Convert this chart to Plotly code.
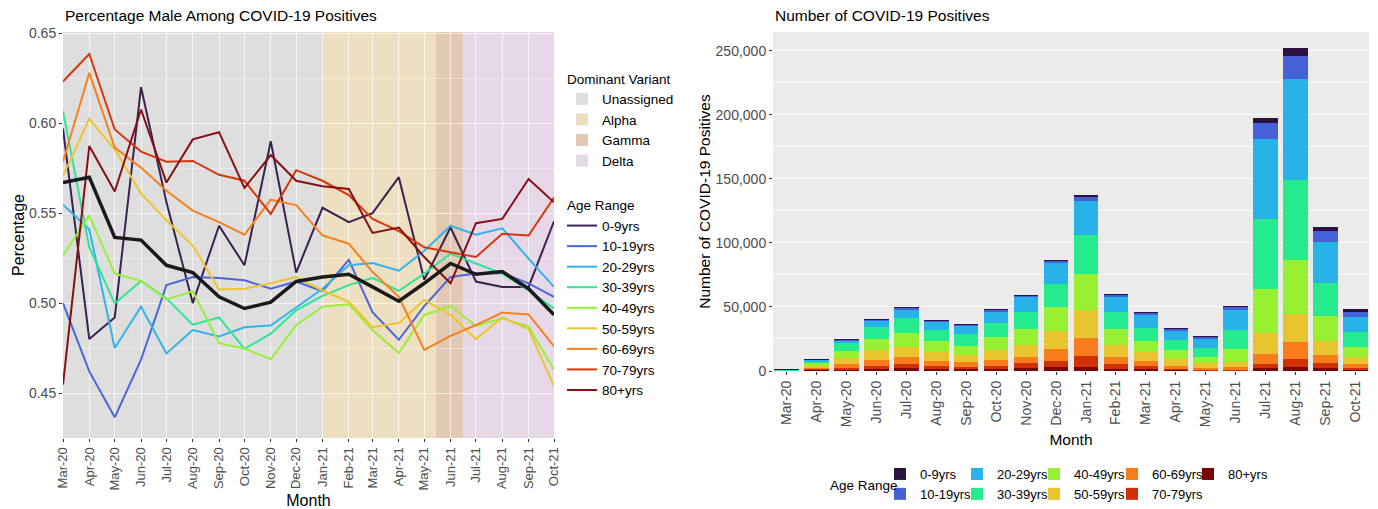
import plotly.graph_objects as go

# ---------------- data ----------------
month_dates = ['2020-03-01', '2020-04-01', '2020-05-01', '2020-06-01', '2020-07-01',
               '2020-08-01', '2020-09-01', '2020-10-01', '2020-11-01', '2020-12-01',
               '2021-01-01', '2021-02-01', '2021-03-01', '2021-04-01', '2021-05-01',
               '2021-06-01', '2021-07-01', '2021-08-01', '2021-09-01', '2021-10-01']
month_labels = ['Mar-20', 'Apr-20', 'May-20', 'Jun-20', 'Jul-20', 'Aug-20', 'Sep-20',
                'Oct-20', 'Nov-20', 'Dec-20', 'Jan-21', 'Feb-21', 'Mar-21', 'Apr-21',
                'May-21', 'Jun-21', 'Jul-21', 'Aug-21', 'Sep-21', 'Oct-21']

age_groups = ['0-9yrs', '10-19yrs', '20-29yrs', '30-39yrs', '40-49yrs',
              '50-59yrs', '60-69yrs', '70-79yrs', '80+yrs']
age_colors = ['#2d1140', '#4561d8', '#27b2e8', '#25ea8e', '#98f032',
              '#e8c42e', '#f97c1b', '#cf3008', '#7a0403']
line_colors = ['#3b2150', '#4a66dc', '#32b4ea', '#2ee597', '#98ef3a',
               '#ecc52e', '#f7801f', '#d5380c', '#861014']

# percentage male, by age group
pct_overall = [0.567, 0.570, 0.5365, 0.535, 0.521, 0.517, 0.5035, 0.497, 0.5005, 0.512,
               0.5145, 0.516, 0.509, 0.501, 0.511, 0.522, 0.516, 0.5175, 0.508, 0.4935]
pct_0_9 = [0.597, 0.480, 0.492, 0.620, 0.556, 0.500, 0.543, 0.521, 0.590, 0.517,
           0.553, 0.545, 0.550, 0.570, 0.513, 0.542, 0.512, 0.509, 0.509, 0.5455]
pct_10_19 = [0.500, 0.462, 0.4365, 0.4685, 0.510, 0.5145, 0.514, 0.5127, 0.508, 0.512,
             0.5066, 0.524, 0.495, 0.4796, 0.4983, 0.5145, 0.5164, 0.5167, 0.511, 0.5035]
pct_20_29 = [0.5547, 0.541, 0.475, 0.498, 0.472, 0.485, 0.4814, 0.4866, 0.4875, 0.4976,
             0.508, 0.521, 0.5223, 0.518, 0.529, 0.543, 0.538, 0.5416, 0.5247, 0.509]
pct_30_39 = [0.6066, 0.531, 0.4998, 0.5123, 0.5026, 0.488, 0.492, 0.4746, 0.483, 0.496,
             0.504, 0.510, 0.514, 0.5068, 0.5164, 0.5275, 0.522, 0.5164, 0.507, 0.497]
pct_40_49 = [0.5265, 0.5486, 0.5164, 0.5123, 0.502, 0.5066, 0.4777, 0.4746, 0.4689, 0.4878,
             0.498, 0.4994, 0.485, 0.4722, 0.4934, 0.4983, 0.4873, 0.4915, 0.4869, 0.463]
pct_50_59 = [0.5707, 0.6024, 0.5855, 0.561, 0.546, 0.532, 0.5076, 0.508, 0.511, 0.5145,
             0.507, 0.5007, 0.4866, 0.489, 0.5017, 0.4934, 0.480, 0.492, 0.4855, 0.4538]
pct_60_69 = [0.5786, 0.628, 0.5864, 0.5753, 0.5624, 0.5514, 0.545, 0.538, 0.5575, 0.5545,
             0.5376, 0.533, 0.5173, 0.5035, 0.474, 0.4818, 0.4878, 0.4947, 0.4937, 0.476]
pct_70_79 = [0.6232, 0.6385, 0.5965, 0.5842, 0.5786, 0.579, 0.5713, 0.568, 0.5496, 0.5739,
             0.568, 0.560, 0.5468, 0.540, 0.531, 0.5284, 0.5256, 0.5385, 0.5376, 0.5587]
pct_80p = [0.4547, 0.5873, 0.562, 0.6076, 0.567, 0.591, 0.595, 0.564, 0.5823, 0.568,
           0.565, 0.5634, 0.539, 0.542, 0.5256, 0.511, 0.5444, 0.5468, 0.569, 0.556]

# dominant variant periods
variants = ['Unassigned', 'Alpha', 'Gamma', 'Delta']
variant_start = ['2020-03-01', '2021-01-01', '2021-05-15', '2021-06-16']
variant_end = ['2021-01-01', '2021-05-15', '2021-06-16', '2021-10-01']
variant_colors = ['#dedede', '#eedfc1', '#e3c9b3', '#e6d8e6']

# number of positives, by age group
pos_0_9 = [10, 40, 40, 80, 160, 80, 80, 100, 140, 300,
           500, 200, 200, 150, 160, 320, 4160, 6240, 3380, 2080]
pos_10_19 = [30, 280, 1000, 700, 1400, 700, 700, 1200, 900, 1000,
             3400, 1620, 1620, 1150, 1400, 2800, 13000, 17940, 8320, 3640]
pos_20_29 = [120, 1500, 2340, 5200, 6500, 6500, 7020, 9100, 12220, 16900,
             26780, 12220, 10400, 7800, 7020, 15600, 62400, 78780, 31980, 12220]
pos_30_39 = [150, 1560, 5720, 9620, 11700, 8840, 8840, 11440, 13260, 18200,
             30680, 13260, 9620, 7800, 7020, 14820, 54600, 62660, 25740, 11180]
pos_40_49 = [180, 1820, 5980, 8580, 10920, 8060, 7280, 9880, 12220, 18460,
             27820, 12220, 9100, 7020, 5200, 9880, 33800, 42120, 19500, 8320]
pos_50_59 = [180, 1560, 4420, 7800, 8320, 7020, 5720, 7800, 9100, 14300,
             22100, 9620, 6760, 5460, 3640, 4420, 16640, 21840, 11180, 4940]
pos_60_69 = [150, 1040, 2860, 4680, 5460, 4160, 3380, 4680, 5200, 9100,
             13520, 5460, 3900, 2080, 1300, 1560, 8060, 13520, 6500, 3120]
pos_70_79 = [100, 780, 1300, 2080, 3120, 2080, 1560, 2080, 3380, 5200,
             8580, 3380, 2340, 1040, 520, 780, 3120, 5720, 3900, 1560]
pos_80p = [80, 780, 1300, 1820, 2080, 1820, 1820, 1820, 2600, 2860,
           3380, 1820, 1560, 780, 520, 520, 2080, 3380, 2080, 1040]

pct_series = [pct_0_9, pct_10_19, pct_20_29, pct_30_39, pct_40_49,
              pct_50_59, pct_60_69, pct_70_79, pct_80p]
pos_series = [pos_0_9, pos_10_19, pos_20_29, pos_30_39, pos_40_49,
              pos_50_59, pos_60_69, pos_70_79, pos_80p]

# ---------------- figure ----------------
FONT = 'Liberation Sans, Arial, sans-serif'
TICK = '#4d4d4d'
# the page body has an 8px margin, so the figure is sized to fit the window
OFF = 8
W, H = 1378 - OFF, 509 - OFF


def px_x(p):
    return (p - OFF) / W


def px_y(p):
    return 1 - (p - OFF) / H


fig = go.Figure()

# left: lines
for i, (name, vals) in enumerate(zip(age_groups, pct_series)):
    fig.add_trace(go.Scatter(
        x=month_dates, y=vals, mode='lines', name=name,
        line=dict(color=line_colors[i], width=2),
        legend='legend', legendgroup='age',
        legendgrouptitle=dict(text='Age Range'), legendrank=10 + i,
        xaxis='x', yaxis='y'))
fig.add_trace(go.Scatter(
    x=month_dates, y=pct_overall, mode='lines', name='Overall',
    line=dict(color='#1a1a1a', width=3.5), showlegend=False,
    xaxis='x', yaxis='y'))

# variant shading
for i, v in enumerate(variants):
    fig.add_shape(type='rect', xref='x', yref='y domain',
                  x0=variant_start[i], x1=variant_end[i], y0=0, y1=1,
                  fillcolor=variant_colors[i], line=dict(width=0), layer='below',
                  showlegend=True, name=v, legend='legend', legendgroup='variant',
                  legendgrouptitle=dict(text='Dominant Variant'), legendrank=1 + i)

# right: stacked bars (80+ at bottom); legend columns of two entries each
for i in reversed(range(len(age_groups))):
    fig.add_trace(go.Bar(
        x=month_labels, y=pos_series[i], name=age_groups[i],
        marker=dict(color=age_colors[i], line=dict(width=0)),
        legend='legend%d' % (2 + i // 2), legendrank=i,
        xaxis='x2', yaxis='y2'))

legend_cols = [880, 957, 1034, 1112, 1188]
col_legends = {}
for c, xpix in enumerate(legend_cols):
    col_legends['legend%d' % (2 + c)] = dict(
        x=px_x(xpix), y=px_y(459), xanchor='left', yanchor='top',
        orientation='v', traceorder='normal', tracegroupgap=0,
        bgcolor='rgba(0,0,0,0)', font=dict(size=13))

fig.update_layout(
    width=W, height=H,
    margin=dict(l=0, r=0, t=0, b=0, autoexpand=False),
    paper_bgcolor='white',
    font=dict(family=FONT, size=13, color='black'),
    barmode='stack', bargap=0.18,
    xaxis=dict(domain=[px_x(63), px_x(554)], type='date', automargin=False,
               range=[month_dates[0], month_dates[-1]],
               tick0=month_dates[0], dtick='M1', tickformat='%b-%y', tickangle=-90,
               ticks='outside', ticklen=3, tickcolor='#333', showline=False,
               showgrid=True, gridcolor='rgba(255,255,255,0.65)', gridwidth=1.1,
               zeroline=False, tickfont=dict(size=13, color=TICK),
               title=dict(text='Month', font=dict(size=16, color='black'), standoff=9),
               anchor='y'),
    yaxis=dict(domain=[px_y(438), px_y(32)], range=[0.425, 0.6507], automargin=False,
               dtick=0.05, tick0=0.45, tickformat='.2f',
               ticks='outside', ticklen=3, tickcolor='#333',
               showgrid=True, gridcolor='rgba(255,255,255,0.65)', gridwidth=1.1,
               minor=dict(dtick=0.025, showgrid=True, gridcolor='rgba(255,255,255,0.4)',
                          gridwidth=0.6),
               zeroline=False, tickfont=dict(size=14, color=TICK),
               title=dict(text='Percentage', font=dict(size=16, color='black'), standoff=0),
               anchor='x'),
    xaxis2=dict(domain=[px_x(773), px_x(1369)], type='category', automargin=False,
                range=[-0.45, 19.45], tickangle=-90,
                ticks='outside', ticklen=3, tickcolor='#333', showgrid=False,
                zeroline=False, tickfont=dict(size=14, color=TICK),
                title=dict(text='Month', font=dict(size=15.5, color='black'), standoff=7),
                anchor='y2'),
    yaxis2=dict(domain=[px_y(371), px_y(32)], range=[0, 264600], automargin=False,
                dtick=50000, tickformat=',',
                ticks='outside', ticklen=3, tickcolor='#333',
                showgrid=True, gridcolor='white', gridwidth=1.1,
                minor=dict(dtick=25000, showgrid=True, gridcolor='white', gridwidth=0.6),
                zeroline=False, tickfont=dict(size=14, color=TICK),
                title=dict(text='Number of COVID-19 Positives',
                           font=dict(size=15.5, color='black'), standoff=1),
                anchor='x2'),
    plot_bgcolor='#ebebeb',
    legend=dict(x=px_x(562), y=px_y(63), xanchor='left', yanchor='top',
                bgcolor='rgba(0,0,0,0)', font=dict(size=13.5),
                grouptitlefont=dict(size=13.5), tracegroupgap=24,
                traceorder='grouped', itemwidth=30),
    annotations=[
        dict(text='Percentage Male Among COVID-19 Positives', x=px_x(63), y=px_y(15),
             xref='paper', yref='paper', xanchor='left', yanchor='middle',
             showarrow=False, font=dict(size=15.5, color='black')),
        dict(text='Number of COVID-19 Positives', x=px_x(773), y=px_y(15),
             xref='paper', yref='paper', xanchor='left', yanchor='middle',
             showarrow=False, font=dict(size=15.5, color='black')),
        dict(text='Age Range', x=px_x(828), y=px_y(485),
             xref='paper', yref='paper', xanchor='left', yanchor='middle',
             showarrow=False, font=dict(size=13.5, color='black')),
    ],
    **col_legends,
)

fig.write_html('out.html')
